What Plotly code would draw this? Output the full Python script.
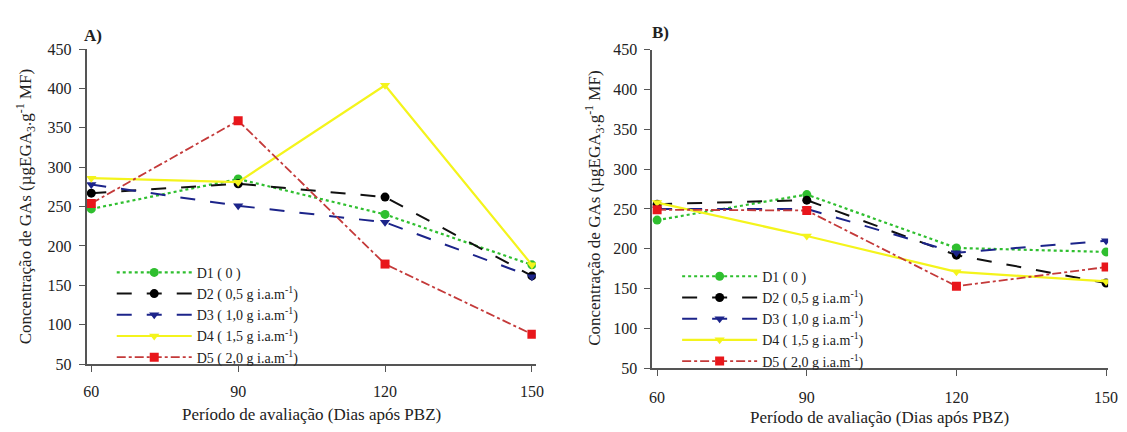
import plotly.graph_objects as go

days = [60, 90, 120, 150]

# Panel A values
a_d1 = [247, 285, 240, 176]
a_d2 = [267, 279, 262, 162]
a_d3 = [278, 251, 230, 161]
a_d4 = [286, 281, 404, 176]
a_d5 = [254, 359, 177, 88]

# Panel B values
b_d1 = [236, 268, 201, 196]
b_d2 = [256, 261, 192, 157]
b_d3 = [250, 250, 195, 210]
b_d4 = [258, 216, 171, 159]
b_d5 = [249, 248, 153, 177]

names = [
    "D1 ( 0 )",
    "D2 ( 0,5 g i.a.m<sup>-1</sup>)",
    "D3 ( 1,0 g i.a.m<sup>-1</sup>)",
    "D4 ( 1,5 g i.a.m<sup>-1</sup>)",
    "D5 ( 2,0 g i.a.m<sup>-1</sup>)",
]
y_ticks = [50, 100, 150, 200, 250, 300, 350, 400, 450]

styles = [
    dict(line=dict(color="#2fbf2f", dash="dot", width=2.2),
         marker=dict(symbol="circle", size=9, color="#2fbf2f")),
    dict(line=dict(color="#111111", dash="longdash", width=2),
         marker=dict(symbol="circle", size=9, color="#000000")),
    dict(line=dict(color="#1c248a", dash="longdash", width=2),
         marker=dict(symbol="triangle-down", size=9, color="#1c248a")),
    dict(line=dict(color="#f4f41c", dash="solid", width=2.2),
         marker=dict(symbol="triangle-down", size=9, color="#f4f41c")),
    dict(line=dict(color="#c43a3a", dash="dashdot", width=1.8),
         marker=dict(symbol="square", size=9, color="#e8161b")),
]

FONT = "Liberation Serif, Times New Roman, DejaVu Serif, serif"
fig = go.Figure()

for i, ys in enumerate([a_d1, a_d2, a_d3, a_d4, a_d5]):
    fig.add_trace(go.Scatter(x=days, y=ys, mode="lines+markers", name=names[i],
                             xaxis="x", yaxis="y", legend="legend", **styles[i]))
for i, ys in enumerate([b_d1, b_d2, b_d3, b_d4, b_d5]):
    fig.add_trace(go.Scatter(x=days, y=ys, mode="lines+markers", name=names[i],
                             xaxis="x2", yaxis="y2", legend="legend2", **styles[i]))

axis_common = dict(showline=True, linecolor="#555555", linewidth=1.5, ticks="outside",
                   ticklen=6, tickwidth=1.2, tickcolor="#555555", showgrid=False,
                   zeroline=False, tickfont=dict(family=FONT, size=16, color="#222222"))

fig.update_layout(
    width=1127, height=432,
    margin=dict(l=0, r=0, t=0, b=0),
    paper_bgcolor="white", plot_bgcolor="white",
    font=dict(family=FONT, size=16, color="#222222"),
    xaxis=dict(domain=[0.075, 0.4783], range=[59.03, 150.8], tickvals=days,
               anchor="y", ticklabelstandoff=6, **axis_common),
    yaxis=dict(domain=[0.1419, 0.9012], range=[50, 450], tickvals=y_ticks,
               anchor="x", ticklabelstandoff=4, **axis_common),
    xaxis2=dict(domain=[0.5827, 0.992], range=[59.0, 150.4], tickvals=days,
                anchor="y2", ticklabelstandoff=8, **axis_common),
    yaxis2=dict(domain=[0.1319, 0.8998], range=[50, 450], tickvals=y_ticks,
                anchor="x2", ticklabelstandoff=4, **axis_common),
    legend=dict(x=110/1127, y=1 - 259/432, xanchor="left", yanchor="top",
                bgcolor="rgba(0,0,0,0)", itemwidth=75, tracegroupgap=0,
                font=dict(family=FONT, size=14, color="#222222")),
    legend2=dict(x=682/1127, y=1 - 263/432, xanchor="left", yanchor="top",
                 bgcolor="rgba(0,0,0,0)", itemwidth=75, tracegroupgap=0,
                 font=dict(family=FONT, size=14, color="#222222")),
)

ytitle = "Concentração de GAs (µgEGA<sub>3</sub>.g<sup>-1</sup> MF)"
xtitle = "Período de avaliação (Dias após PBZ)"
ann = [
    dict(text=ytitle, x=23/1127, y=1 - 206.7/432, textangle=-90),
    dict(text=ytitle, x=599/1127, y=1 - 209/432, textangle=-90),
    dict(text=xtitle, x=311.8/1127, y=1 - 423/432),
    dict(text=xtitle, x=887/1127, y=1 - 426/432),
    dict(text="<b>A)</b>", x=91/1127, y=1 - 29/432),
    dict(text="<b>B)</b>", x=665/1127, y=1 - 25/432),
]
for a in ann:
    fig.add_annotation(xref="paper", yref="paper", showarrow=False,
                       xanchor="center", yanchor="middle",
                       font=dict(family=FONT, size=17, color="#222222"), **a)

fig.write_html("out.html")
